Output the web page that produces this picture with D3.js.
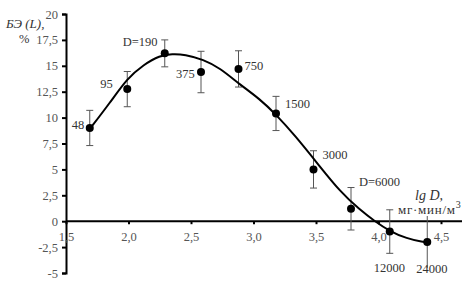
<!DOCTYPE html>
<html>
<head>
<meta charset="utf-8">
<title>BE vs lg D</title>
<script src="https://d3js.org/d3.v7.min.js"></script>
<style>
  body { margin: 0; background: #fff; }
  svg text { font-family: "Liberation Serif", "DejaVu Serif", serif; }
</style>
</head>
<body>
<div id="chart"></div>
<script>
// measured points: dose label, lg D, value (%), error half-width
let doses = ["48", "95", "D=190", "375", "750", "1500", "3000", "D=6000", "12000", "24000"];
let lgD = [1.69, 1.99, 2.29, 2.58, 2.88, 3.18, 3.48, 3.78, 4.09, 4.39];
let values = [9.0, 12.75, 16.2, 14.4, 14.7, 10.4, 5.0, 1.2, -1.0, -2.0];
let errors = [1.7, 1.7, 1.3, 2.0, 1.75, 1.65, 1.8, 2.05, 2.1, 2.5];
// fitted curve
let curveX = [1.69, 1.85, 1.99, 2.12, 2.25, 2.35, 2.45, 2.6, 2.73, 2.89, 3.05, 3.18, 3.33, 3.53, 3.69, 3.85, 3.97, 4.09, 4.225, 4.36, 4.39];
let curveY = [8.9, 11.4, 13.8, 15.1, 16.0, 16.15, 16.1, 15.6, 14.8, 13.2, 11.8, 10.3, 8.3, 5.3, 2.9, 1.1, 0.0, -0.97, -1.67, -2.03, -2.03];
let xTicks = [1.5, 2.0, 2.5, 3.0, 3.5, 4.0, 4.5];
let yTicks = [-5, -2.5, 0, 2.5, 5, 7.5, 10, 12.5, 15, 17.5, 20];

// label offsets (dx, dy) relative to point
let labelPos = [[-18, 1], [-27, -1], [-42, -7], [-25, 6], [6, 1], [9, -5], [9, -10], [8, -23], [-16, 40], [-11, 31]];

let serif = "Liberation Serif, DejaVu Serif, serif";
let W = 467, H = 282;
let svg = d3.select("#chart").append("svg")
    .attr("width", W).attr("height", H)
    .attr("font-family", serif);

let x = d3.scaleLinear().domain([1.5, 4.668]).range([66, 462]);
let y = d3.scaleLinear().domain([-5, 20]).range([273, 14]);

// y axis
let yAxis = svg.append("g")
    .attr("transform", "translate(" + x(1.5) + ",0)")
    .call(d3.axisLeft(y).tickValues(yTicks).tickSize(4).tickPadding(4)
        .tickFormat(d => String(d).replace(".", ",")));
yAxis.attr("font-family", serif);
yAxis.select(".domain").attr("stroke", "#000").attr("stroke-width", 2);
yAxis.selectAll(".tick line").attr("stroke", "#000").attr("stroke-width", 2);
yAxis.selectAll(".tick text")
    .attr("font-size", 12.5).attr("fill", "#555");

// x axis
let xAxis = svg.append("g")
    .attr("transform", "translate(0," + y(0) + ")")
    .call(d3.axisBottom(x).tickValues(xTicks).tickSize(3).tickPadding(8)
        .tickFormat(d => d3.format(".1f")(d).replace(".", ",")));
xAxis.attr("font-family", serif);
xAxis.select(".domain").attr("stroke", "#000").attr("stroke-width", 2)
    .attr("d", "M" + x(1.5) + ",0H" + x(4.668));
xAxis.selectAll(".tick line").attr("stroke", "#000").attr("stroke-width", 2);
xAxis.selectAll(".tick text")
    .attr("font-size", 12.5).attr("fill", "#555");

// error bars
let pts = lgD.map((d, i) => ({x: d, v: values[i], e: errors[i], label: doses[i], i: i}));
let eb = svg.append("g").attr("stroke", "#555").attr("stroke-width", 1);
eb.selectAll("line.v").data(pts).enter().append("line")
    .attr("x1", d => x(d.x)).attr("x2", d => x(d.x))
    .attr("y1", d => y(d.v + d.e)).attr("y2", d => y(d.v - d.e));
let capped = pts.filter(d => d.i < pts.length - 1);
eb.selectAll("line.t").data(capped).enter().append("line")
    .attr("x1", d => x(d.x) - 3.5).attr("x2", d => x(d.x) + 3.5)
    .attr("y1", d => y(d.v + d.e)).attr("y2", d => y(d.v + d.e));
eb.selectAll("line.b").data(capped).enter().append("line")
    .attr("x1", d => x(d.x) - 3.5).attr("x2", d => x(d.x) + 3.5)
    .attr("y1", d => y(d.v - d.e)).attr("y2", d => y(d.v - d.e));

// fitted curve
let line = d3.line().x(d => x(d[0])).y(d => y(d[1])).curve(d3.curveBasis);
svg.append("path")
    .datum(curveX.map((d, i) => [d, curveY[i]]))
    .attr("fill", "none").attr("stroke", "#000").attr("stroke-width", 2)
    .attr("d", line);

// points
svg.selectAll("circle").data(pts).enter().append("circle")
    .attr("cx", d => x(d.x)).attr("cy", d => y(d.v)).attr("r", 4)
    .attr("fill", "#000");

// point labels
svg.selectAll("text.lbl").data(pts).enter().append("text")
    .attr("class", "lbl")
    .attr("x", d => x(d.x) + labelPos[d.i][0])
    .attr("y", d => y(d.v) + labelPos[d.i][1])
    .attr("font-size", 12.5).attr("fill", "#333")
    .text(d => d.label);

// axis titles
svg.append("text").attr("x", 6).attr("y", 28)
    .attr("font-size", 13).attr("font-style", "italic").attr("fill", "#333")
    .text("БЭ (L),");
svg.append("text").attr("x", 19).attr("y", 43)
    .attr("font-size", 12.5).attr("fill", "#333")
    .text("%");
svg.append("text").attr("x", 415).attr("y", 200)
    .attr("font-size", 14).attr("font-style", "italic").attr("fill", "#333")
    .text("lg D,");
let unit = svg.append("text").attr("x", 398).attr("y", 214)
    .attr("font-size", 13).attr("fill", "#333");
unit.append("tspan").attr("textLength", 57).attr("lengthAdjust", "spacing")
    .text("мг·мин/м");
unit.append("tspan").attr("dy", -6).attr("font-size", 10).text("3");
</script>
</body>
</html>
